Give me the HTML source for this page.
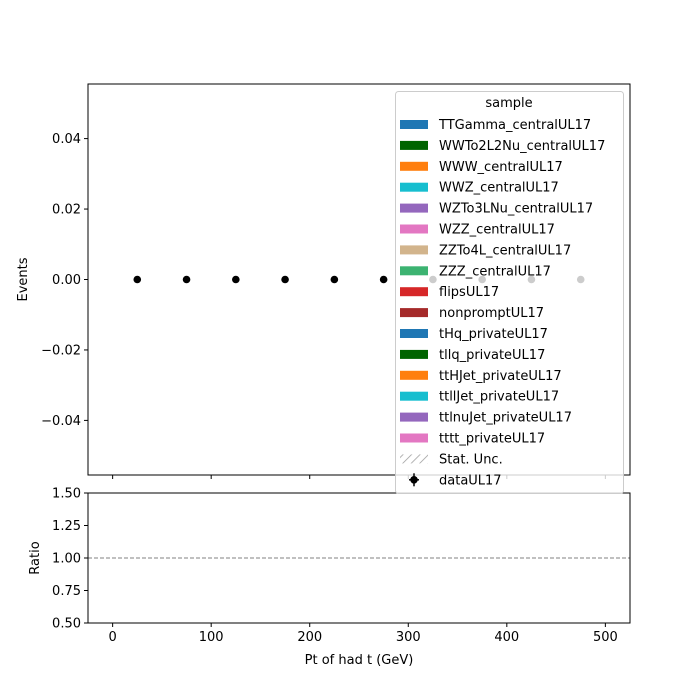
<!DOCTYPE html>
<html><head><meta charset="utf-8"><style>
body{margin:0;background:#fff}
svg{display:block;font-family:"DejaVu Sans","Liberation Sans",sans-serif}
</style></head><body>
<svg id="c" width="700" height="700" viewBox="0 0 700 700">
<rect width="700" height="700" fill="#fff"/>
<g id="main"></g>
<g id="ratio"></g>
<g id="legend"></g>
</svg>
<script>
const binCenters = [25,75,125,175,225,275,325,375,425,475];
const dataValues = [0,0,0,0,0,0,0,0,0,0];
const xTicks = [0,100,200,300,400,500];
const yTicks = [-0.04,-0.02,0.00,0.02,0.04];
const yTickLabels = ["\u22120.04","\u22120.02","0.00","0.02","0.04"];
const ratioTicks = [0.50,0.75,1.00,1.25,1.50];
const ratioTickLabels = ["0.50","0.75","1.00","1.25","1.50"];
const sampleNames = ["TTGamma_centralUL17","WWTo2L2Nu_centralUL17","WWW_centralUL17","WWZ_centralUL17","WZTo3LNu_centralUL17","WZZ_centralUL17","ZZTo4L_centralUL17","ZZZ_centralUL17","flipsUL17","nonpromptUL17","tHq_privateUL17","tllq_privateUL17","ttHJet_privateUL17","ttllJet_privateUL17","ttlnuJet_privateUL17","tttt_privateUL17"];
const sampleColors = ["#1f77b4","#006400","#ff7f0e","#17becf","#9467bd","#e377c2","#d2b48c","#3cb371","#d62728","#a52a2a","#1f77b4","#006400","#ff7f0e","#17becf","#9467bd","#e377c2"];

const NS="http://www.w3.org/2000/svg";
const L=88,R=630,MT=84,MB=475,RT=493,RB=623;
const xs=v=>L+(v+25)/(550)*(R-L);
const ys=v=>(MT+MB)/2-v/0.0555*((MB-MT)/2);
const yr=v=>RB-(v-0.5)*(RB-RT);
function mk(p,t,a,txt){const e=document.createElementNS(NS,t);for(const k in a)e.setAttribute(k,a[k]);if(txt!==undefined)e.textContent=txt;p.appendChild(e);return e;}
const main=document.getElementById('main'),ratio=document.getElementById('ratio'),leg=document.getElementById('legend');

// data points
binCenters.forEach((b,i)=>{
 const c=mk(main,'circle',{cx:xs(b),cy:ys(dataValues[i]),r:3.8,fill:'#000'});
 
 
});
// main axes frame
const f1=mk(main,'rect',{x:L,y:MT,width:R-L,height:MB-MT,fill:'none',stroke:'#000','stroke-width':1});


yTicks.forEach((t,i)=>{
 const y=ys(t);
 mk(main,'line',{x1:L-4,x2:L,y1:y,y2:y,stroke:'#000'});
 const tx=mk(main,'text',{x:L-7,y:y+4.5,'text-anchor':'end','font-size':13},yTickLabels[i]);
 
 
});
xTicks.forEach(t=>{mk(main,'line',{x1:xs(t),x2:xs(t),y1:MB,y2:MB+4,stroke:'#000'});});
const yl=mk(main,'text',{x:27,y:(MT+MB)/2,'text-anchor':'middle','font-size':13,transform:`rotate(-90 27 ${(MT+MB)/2})`},'Events');



// legend
const lb=mk(leg,'rect',{x:395.5,y:91.5,width:228,height:402,rx:3,fill:'#fff','fill-opacity':0.8,stroke:'#ccc'});


mk(leg,'text',{x:509,y:107,'text-anchor':'middle','font-size':13},'sample');
sampleNames.forEach((n,i)=>{
 const y=124+i*20.9;
 const g=mk(leg,'g',{});
 
 
 mk(g,'rect',{x:400,y:y-4,width:28,height:9,fill:sampleColors[i]});
 mk(g,'text',{x:439,y:y+5,'font-size':13},n);
});
const defs=mk(leg,'defs',{});
const pat=mk(defs,'pattern',{id:'hatch',width:6,height:6,patternUnits:'userSpaceOnUse',patternTransform:'rotate(45)'});
mk(pat,'line',{x1:0,y1:0,x2:0,y2:6,stroke:'#999','stroke-width':1.5});
const ys1=124+16*20.9, ys2=124+17*20.9;
const g1=mk(leg,'g',{});


mk(g1,'rect',{x:400,y:ys1-4,width:28,height:9,fill:'url(#hatch)'});
mk(g1,'text',{x:439,y:ys1+5,'font-size':13},'Stat. Unc.');
const g2=mk(leg,'g',{});


mk(g2,'line',{x1:414,x2:414,y1:ys2-6,y2:ys2+7,stroke:'#000','stroke-width':1.5});
mk(g2,'line',{x1:409,x2:419,y1:ys2+0.5,y2:ys2+0.5,stroke:'#000','stroke-width':1.5});
mk(g2,'circle',{cx:414,cy:ys2+0.5,r:3.8,fill:'#000'});
mk(g2,'text',{x:439,y:ys2+5,'font-size':13},'dataUL17');

// ratio panel
const rl=mk(ratio,'line',{x1:L,x2:R,y1:yr(1),y2:yr(1),stroke:'#808080','stroke-dasharray':'4,2'});


const f2=mk(ratio,'rect',{x:L,y:RT,width:R-L,height:RB-RT,fill:'none',stroke:'#000'});


ratioTicks.forEach((t,i)=>{
 const y=yr(t);
 mk(ratio,'line',{x1:L-4,x2:L,y1:y,y2:y,stroke:'#000'});
 const tx=mk(ratio,'text',{x:L-7,y:y+4.5,'text-anchor':'end','font-size':13},ratioTickLabels[i]);
 
 
});
xTicks.forEach(t=>{
 mk(ratio,'line',{x1:xs(t),x2:xs(t),y1:RB,y2:RB+4,stroke:'#000'});
 const tx=mk(ratio,'text',{x:xs(t),y:RB+18,'text-anchor':'middle','font-size':13},String(t));
 
 
});
const rt=mk(ratio,'text',{x:39,y:(RT+RB)/2,'text-anchor':'middle','font-size':13,transform:`rotate(-90 39 ${(RT+RB)/2})`},'Ratio');


const xt=mk(ratio,'text',{x:(L+R)/2,y:664,'text-anchor':'middle','font-size':13},'Pt of had t (GeV)');


</script>
</body></html>
